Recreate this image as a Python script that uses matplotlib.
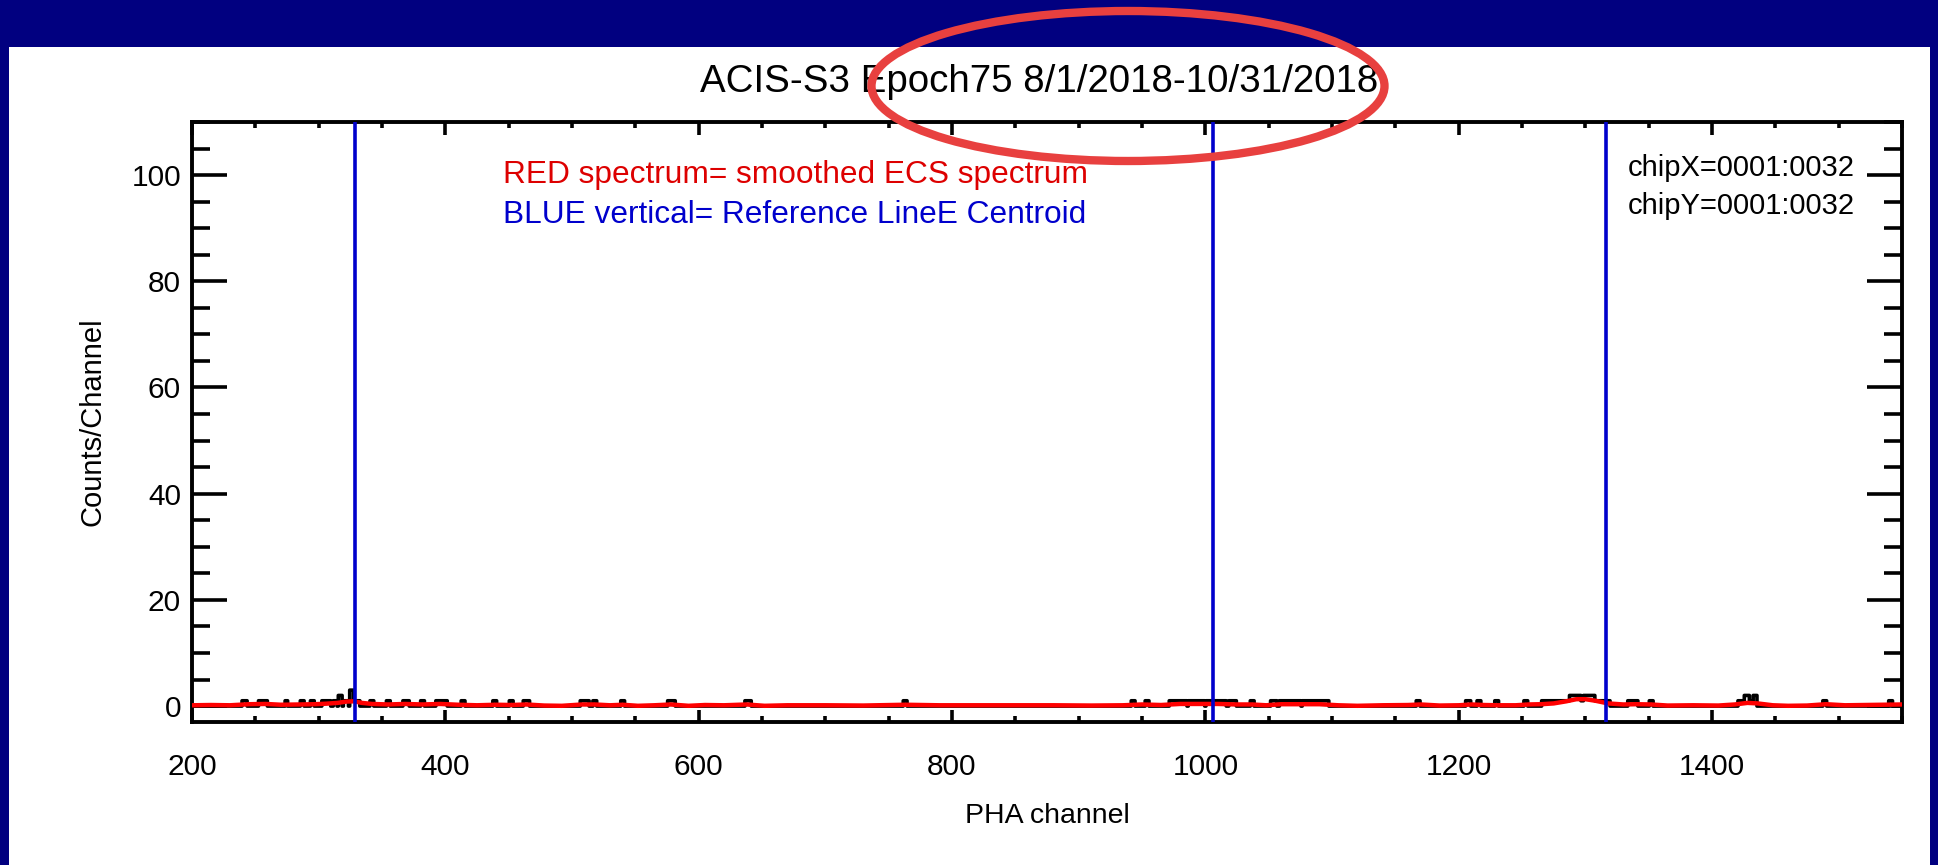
import numpy as np
import matplotlib
matplotlib.use("Agg")
import matplotlib.pyplot as plt
from matplotlib.patches import Rectangle, Ellipse
from matplotlib.ticker import MultipleLocator

plt.rcParams['font.family'] = ['Liberation Sans', 'DejaVu Sans']

# ---------------- data ----------------
title = "ACIS-S3 Epoch75 8/1/2018-10/31/2018"
x_label = "PHA channel"
y_label = "Counts/Channel"
legend_red = "RED spectrum= smoothed ECS spectrum"
legend_blue = "BLUE vertical= Reference LineE Centroid"
chip_x = "chipX=0001:0032"
chip_y = "chipY=0001:0032"

x_ticks = [200, 400, 600, 800, 1000, 1200, 1400]
y_ticks = [0, 20, 40, 60, 80, 100]

# reference line centroids (PHA channel)
line_centroids = [329, 1006, 1316]

# raw spectrum: runs of channels with non-zero counts (start, end, counts)
run_start = [240, 253, 274, 286, 294, 303, 312, 316, 320, 325, 328, 341, 354, 367, 381, 393,
             413, 438, 451, 462, 507, 517, 539, 576, 637, 762, 942, 953, 972, 987, 1001, 1019,
             1036, 1052, 1059, 1077, 1167, 1206, 1215, 1229, 1252, 1266, 1288, 1297, 1299, 1308,
             1334, 1351, 1421, 1426, 1430, 1433, 1488, 1540]
run_end = [243, 259, 275, 288, 296, 309, 314, 318, 323, 327, 332, 343, 356, 371, 383, 401,
           415, 440, 453, 466, 513, 519, 541, 581, 641, 764, 944, 955, 985, 999, 1016, 1024,
           1038, 1056, 1075, 1097, 1169, 1209, 1217, 1231, 1254, 1287, 1296, 1298, 1307, 1319,
           1341, 1353, 1425, 1429, 1432, 1435, 1490, 1542]
run_count = [1, 1, 1, 1, 1, 1, 1, 2, 1, 3, 1, 1, 1, 1, 1, 1,
             1, 1, 1, 1, 1, 1, 1, 1, 1, 1, 1, 1, 1, 1, 1, 1,
             1, 1, 1, 1, 1, 1, 1, 1, 1, 1, 2, 1, 2, 1,
             1, 1, 1, 2, 1, 2, 1, 1]

# smoothed spectrum (channel, counts)
smooth_ch = [200, 215, 230, 245, 258, 270, 285, 297, 306, 315, 322, 328, 334, 342, 355, 368,
             382, 396, 410, 425, 440, 452, 464, 478, 492, 508, 518, 530, 540, 552, 565, 578,
             592, 605, 620, 638, 652, 670, 700, 730, 763, 790, 820, 850, 880, 910, 935, 950,
             965, 980, 995, 1010, 1025, 1037, 1048, 1060, 1075, 1090, 1105, 1120, 1140, 1160,
             1170, 1185, 1200, 1210, 1220, 1232, 1245, 1255, 1265, 1275, 1285, 1293, 1300,
             1308, 1318, 1330, 1340, 1352, 1365, 1385, 1405, 1418, 1428, 1436, 1448, 1460,
             1475, 1490, 1505, 1520, 1535, 1550]
smooth_val = [0.15, 0.2, 0.15, 0.35, 0.4, 0.25, 0.3, 0.35, 0.45, 0.6, 0.85, 0.9, 0.6, 0.4, 0.3, 0.4,
              0.3, 0.4, 0.25, 0.15, 0.25, 0.2, 0.3, 0.1, 0.05, 0.3, 0.3, 0.15, 0.25, 0.05, 0.15, 0.3,
              0.05, 0.2, 0.15, 0.3, 0.05, 0.15, 0.15, 0.1, 0.25, 0.15, 0.15, 0.15, 0.15, 0.1, 0.15, 0.3,
              0.2, 0.4, 0.4, 0.4, 0.3, 0.3, 0.15, 0.35, 0.35, 0.35, 0.15, 0.05, 0.15, 0.2,
              0.3, 0.1, 0.15, 0.3, 0.2, 0.15, 0.15, 0.3, 0.35, 0.5, 0.9, 1.3, 1.3,
              1.0, 0.5, 0.3, 0.35, 0.3, 0.1, 0.15, 0.1, 0.3, 0.6, 0.5, 0.15, 0.05,
              0.1, 0.35, 0.15, 0.2, 0.25, 0.3]

# ---------------- figure ----------------
W, H = 1938, 865
fig = plt.figure(figsize=(W / 100, H / 100), dpi=100)
fig.patch.set_facecolor('#010080')
fig.add_artist(Rectangle((9 / W, 0), (1930 - 9) / W, (H - 47) / H,
                         transform=fig.transFigure, facecolor='white', edgecolor='none', zorder=0))

ax = fig.add_axes([192 / W, 1 - 722 / H, (1902 - 192) / W, (722 - 122) / H])
ax.set_facecolor('white')

channels = np.arange(200, 1551)
counts = np.zeros_like(channels, dtype=float)
for s, e, c in zip(run_start, run_end, run_count):
    counts[(channels >= s) & (channels <= e)] = c

ax.plot(channels, counts, drawstyle='steps-mid', color='black', lw=2.6, zorder=2)
ax.plot(smooth_ch, smooth_val, color='#FF0000', lw=3.2, zorder=3)
for xc in line_centroids:
    ax.axvline(xc, color='#0000CC', lw=2.6, zorder=4)

ax.set_xlim(200, 1550)
ax.set_ylim(-3, 110)
ax.set_xticks(x_ticks)
ax.set_yticks(y_ticks)
ax.xaxis.set_minor_locator(MultipleLocator(50))
ax.yaxis.set_minor_locator(MultipleLocator(5))
ax.tick_params(which='both', direction='in', top=True, right=True, width=2.6, color='black',
               labelsize=21.5)
ax.tick_params(axis='x', which='major', length=9, pad=22)
ax.tick_params(axis='x', which='minor', length=4.5)
ax.tick_params(axis='y', which='major', length=25, pad=8)
ax.tick_params(axis='y', which='minor', length=13)
for sp in ax.spines.values():
    sp.set_linewidth(2.8)

ax.set_xlabel(x_label, fontsize=20.5, labelpad=16)
ax.set_ylabel(y_label, fontsize=21, labelpad=18)

fig.text(1039 / W, 1 - 82 / H, title, fontsize=27.7, ha='center', va='center', color='black')

ax.text(503 / W, 1 - 175 / H, legend_red, transform=fig.transFigure, fontsize=22.8,
        color='#DD0000', ha='left', va='center')
ax.text(503 / W, 1 - 215 / H, legend_blue, transform=fig.transFigure, fontsize=22.8,
        color='#0000CC', ha='left', va='center')
ax.text(1628 / W, 1 - 168 / H, chip_x, transform=fig.transFigure, fontsize=21,
        color='black', ha='left', va='center')
ax.text(1628 / W, 1 - 206 / H, chip_y, transform=fig.transFigure, fontsize=21,
        color='black', ha='left', va='center')

# red highlight ellipse around the epoch/date text
fig.add_artist(Ellipse((1128 / W, 1 - 86 / H), 513 / W, 150 / H, transform=fig.transFigure,
                       fill=False, edgecolor='#E8403F', lw=6, zorder=10))

fig.savefig('out.png', dpi=100, facecolor=fig.get_facecolor())
